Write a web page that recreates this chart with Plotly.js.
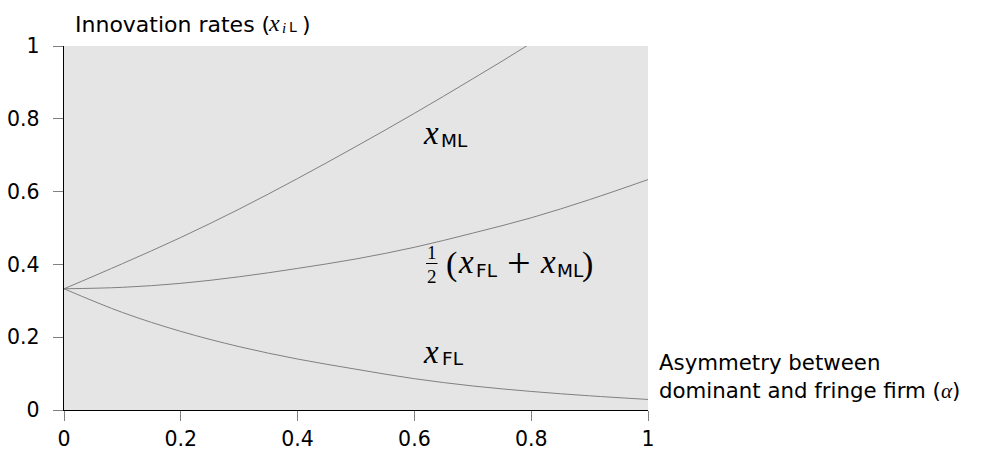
<!DOCTYPE html>
<html><head><meta charset="utf-8">
<script src="https://cdn.plot.ly/plotly-3.0.1.min.js"></script>
<style>html,body{margin:0;padding:0;background:#fff}#chart{width:981px;height:451px}</style>
</head><body><div id="chart"></div>
<script>
const alpha = [0, 0.1, 0.2, 0.3, 0.4, 0.5, 0.6, 0.7, 0.8, 0.9, 1.0];
const xML   = [0.333, 0.402, 0.474, 0.552, 0.636, 0.724, 0.815, 0.910, 1.008, 1.115, 1.230];
const xFL   = [0.333, 0.268, 0.216, 0.174, 0.140, 0.112, 0.086, 0.066, 0.051, 0.039, 0.029];
const xAvg  = [0.333, 0.337, 0.348, 0.366, 0.389, 0.415, 0.447, 0.486, 0.528, 0.578, 0.633];
const tickVals = [0, 0.2, 0.4, 0.6, 0.8, 1];
const tickText = ['0', '0.2', '0.4', '0.6', '0.8', '1'];

const SANS = 'DejaVu Sans, sans-serif';
const SERIF = 'Liberation Serif, serif';

// plot area in pixels (used only to place text labels)
const L = 64, R = 648, T = 46, B = 410;
const px = v => (v - L) / (R - L);
const py = v => (B - v) / (B - T);
function lab(x, y, text, size, family, xanchor, italic) {
  return {xref: 'paper', yref: 'paper', x: px(x), y: py(y), xanchor: xanchor || 'center', yanchor: 'middle',
          showarrow: false, font: {size, family, color: '#000', style: italic ? 'italic' : 'normal'}, text};
}

const line = {color: '#808080', width: 1, shape: 'spline'};
const traces = [
  {x: alpha, y: xML, mode: 'lines', line, hoverinfo: 'skip'},
  {x: alpha, y: xAvg, mode: 'lines', line, hoverinfo: 'skip'},
  {x: alpha, y: xFL, mode: 'lines', line, hoverinfo: 'skip'}
];

const axisCommon = {
  range: [0, 1], showgrid: false, zeroline: false, showline: true,
  linecolor: '#000', linewidth: 1.3, ticks: 'outside', ticklen: 10,
  tickcolor: '#808080', tickwidth: 1, tickvals: tickVals, ticktext: tickText,
  tickfont: {family: SANS, size: 20.5, color: '#000'}, fixedrange: true
};

const annotations = [
  // y-axis title
  lab(73, 24.4, 'Innovation rates (', 22, SANS, 'left'),
  lab(273.5, 23, 'x', 24, SERIF, 'center', true),
  lab(283.5, 28, 'i', 15, SERIF, 'center', true),
  lab(287, 27.2, 'L', 14, SANS, 'left'),
  lab(306.5, 24.4, ')', 22, SANS, 'center'),
  // x-axis title
  {xref: 'paper', yref: 'paper', x: px(657), y: py(376), xanchor: 'left', yanchor: 'middle', align: 'left',
   showarrow: false, font: {size: 21.3, family: SANS, color: '#000'},
   text: `Asymmetry between<br>dominant and fringe firm (<span style="font-family:${SERIF};font-style:italic">α</span>)`},
  // x_ML
  lab(430.5, 133, 'x', 33, SERIF, 'center', true),
  lab(439, 140.6, 'ML', 18.5, SANS, 'left'),
  // x_FL
  lab(430.5, 352, 'x', 33, SERIF, 'center', true),
  lab(440, 358.6, 'FL', 18.5, SANS, 'left'),
  // 1/2 (x_FL + x_ML)
  lab(431.5, 252.6, '1', 19, SERIF, 'center'),
  lab(431.5, 276.6, '2', 19, SERIF, 'center'),
  lab(451.5, 264, '(', 34, SERIF, 'center'),
  lab(466, 262, 'x', 33, SERIF, 'center', true),
  lab(474, 270.6, 'FL', 18.5, SANS, 'left'),
  lab(519, 263.4, '+', 42, SERIF, 'center'),
  lab(547.5, 262, 'x', 33, SERIF, 'center', true),
  lab(555, 270.6, 'ML', 18.5, SANS, 'left'),
  lab(587.5, 264, ')', 34, SERIF, 'center')
];

const layout = {
  width: 981, height: 451,
  margin: {l: 64, r: 333, t: 46, b: 41},
  paper_bgcolor: '#fff', plot_bgcolor: '#e5e5e5',
  showlegend: false,
  xaxis: Object.assign({}, axisCommon),
  yaxis: Object.assign({}, axisCommon, {ticklabelstandoff: 9}),
  font: {family: SANS, color: '#000'},
  shapes: [
    {type: 'line', xref: 'paper', yref: 'paper', x0: px(426), x1: px(437.5), y0: py(263.5), y1: py(263.5),
     line: {color: '#000', width: 1}}
  ],
  annotations
};

Plotly.newPlot('chart', traces, layout, {staticPlot: true, displayModeBar: false});
</script></body></html>
